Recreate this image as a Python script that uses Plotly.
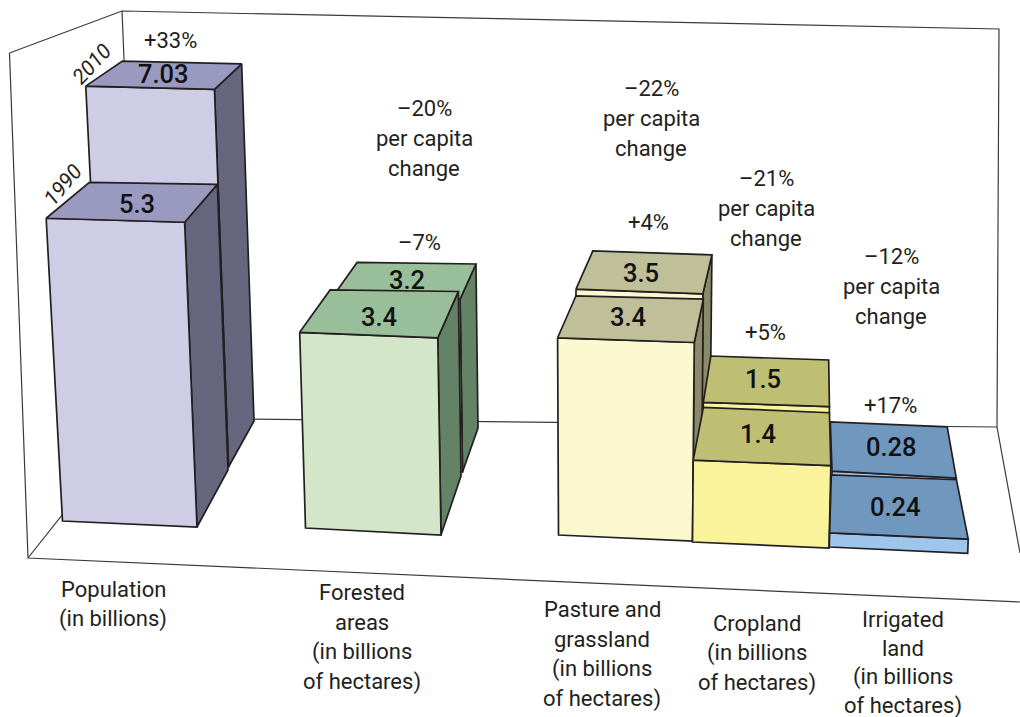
import plotly.graph_objects as go

# ---- data ----
CATEGORIES = ["Population", "Forested areas", "Pasture and grassland", "Cropland", "Irrigated land"]
VALUES_1990 = [5.3, 3.4, 3.4, 1.4, 0.24]
VALUES_2010 = [7.03, 3.2, 3.5, 1.5, 0.28]
VALUE_TEXT_1990 = ["5.3", "3.4", "3.4", "1.4", "0.24"]
VALUE_TEXT_2010 = ["7.03", "3.2", "3.5", "1.5", "0.28"]
CHANGE_LABELS = ["+33%", "\u20137%", "+4%", "+5%", "+17%"]
PER_CAPITA_LABELS = [None, "\u201320%", "\u201322%", "\u201321%", "\u201312%"]
CATEGORY_LINES = [
    ["Population", "(in billions)"],
    ["Forested", "areas", "(in billions", "of hectares)"],
    ["Pasture and", "grassland", "(in billions", "of hectares)"],
    ["Cropland", "(in billions", "of hectares)"],
    ["Irrigated", "land", "(in billions", "of hectares)"],
]
YEARS = ["1990", "2010"]

# ---- layout geometry: floor footprints (front-left, front-right, back-right, back-left) ----
FOOT_1990 = [
    [(62.5, 521), (197, 527), (228, 470), (103.5, 467)],
    [(305.5, 528), (441, 535), (461, 476), (335, 474)],
    [(558.5, 535), (692.5, 541), (701.5, 485.7), (576.5, 481.5)],
    [(692.5, 542), (829, 548), (827.7, 490), (702.6, 484)],
    [(829.3, 547), (967.7, 553.3), (956, 493), (831, 488)],
]
FOOT_2010 = [
    [(104.3, 461), (228.5, 467), (254, 421), (138.7, 416)],
    [(340, 464), (462.5, 472), (478, 428), (361, 426)],
    [(576.5, 480), (701, 486), (710, 436), (593, 431)],
    [(702.5, 484.5), (827.6, 489.4), (827, 437.8), (710, 433.4)],
    [(831.7, 486.5), (955.7, 493.5), (946.7, 441.5), (830, 436.5)],
]
COLORS = [  # top, front, side
    ("#9a99bf", "#cfcde6", "#66667f"),
    ("#98bf9a", "#d3e7c8", "#648265"),
    ("#bfbf99", "#fbf7cf", "#8b8a6b"),
    ("#bfbf73", "#fbf39c", "#8b8a6b"),
    ("#7098bf", "#9ec6ec", "#4f6f8f"),
]
VALUE_POS_1990 = [(137, 204), (379, 317), (628, 317), (758, 434), (895, 507)]
VALUE_POS_2010 = [(163, 74), (407, 280), (641, 273), (763, 379), (891, 447)]
CHANGE_POS = [(170, 40), (419, 242), (648, 222), (765, 332), (890, 405)]
PER_CAPITA_POS = [None, (424, 108), (651, 88), (766, 178), (891, 256)]
CATEGORY_POS = [(113, 589), (362, 592), (602, 609), (757, 623), (903, 619)]
CATEGORY_STEP = [30, 30, 30, 30, 29]
INK = "#231f20"
FRAME = "#3a3a3a"
VANISH = (604.0, 10560.0)
LABEL_FONT = "Roboto"


def lift(point, value):
    """Raise a floor point by a value, in the chart's oblique perspective."""
    x, y = point
    dy = value * (50.8 + 0.0632 * (y - 421))
    return (x - dy * (VANISH[0] - x) / (VANISH[1] - y), y - dy)


fig = go.Figure()


def poly(points, fill):
    xs = [p[0] for p in points] + [points[0][0]]
    ys = [p[1] for p in points] + [points[0][1]]
    fig.add_trace(go.Scatter(x=xs, y=ys, mode="lines", fill="toself", fillcolor=fill,
                             line=dict(color=INK, width=1.7), hoverinfo="skip", showlegend=False))


def frame(points, width=1.2):
    fig.add_trace(go.Scatter(x=[p[0] for p in points], y=[p[1] for p in points], mode="lines",
                             line=dict(color=FRAME, width=width), hoverinfo="skip", showlegend=False))


frame([(9.5, 53), (122, 11), (999, 29), (997, 427), (1020, 553)])
frame([(9.5, 53), (28, 558), (1020, 602)])
frame([(28, 558), (139, 418)])
frame([(122, 11), (139, 418), (997, 427)])


def text(x, y, s, size=22, angle=0, color="#231f20", style="normal", weight="normal"):
    fig.add_annotation(x=x, y=y, xref="x", yref="y", text=s, showarrow=False, textangle=angle,
                       font=dict(family=LABEL_FONT, size=size, color=color, style=style, weight=weight),
                       xanchor="center", yanchor="middle")


def bar(foot, value, colors):
    top = [lift(p, value) for p in foot]
    fl, fr, br, bl = foot
    tfl, tfr, tbr, tbl = top
    if br[0] > fr[0]:
        poly([tfr, tbr, br, fr], colors[2])
    poly([tfl, tfr, fr, fl], colors[1])
    poly(top, colors[0])


for i in range(len(CATEGORIES)):
    bar(FOOT_2010[i], VALUES_2010[i], COLORS[i])
    bar(FOOT_1990[i], VALUES_1990[i], COLORS[i])
for i in range(len(CATEGORIES)):
    text(*VALUE_POS_2010[i], VALUE_TEXT_2010[i], size=25.5, color="#111111", weight=500)
    text(*VALUE_POS_1990[i], VALUE_TEXT_1990[i], size=25.5, color="#111111", weight=500)

text(63, 185, YEARS[0], size=21, angle=-50, style="italic")
text(92, 64, YEARS[1], size=21, angle=-47, style="italic")

for i in range(len(CATEGORIES)):
    text(*CHANGE_POS[i], CHANGE_LABELS[i])
    if PER_CAPITA_LABELS[i]:
        px, py = PER_CAPITA_POS[i]
        for j, s in enumerate([PER_CAPITA_LABELS[i], "per capita", "change"]):
            text(px, py + 30 * j, s)
    cx, cy = CATEGORY_POS[i]
    for j, s in enumerate(CATEGORY_LINES[i]):
        text(cx, cy + CATEGORY_STEP[i] * j, s)

fig.update_layout(
    width=1020, height=717, margin=dict(l=0, r=0, t=0, b=0),
    paper_bgcolor="white", plot_bgcolor="white",
    xaxis=dict(range=[0, 1020], visible=False, fixedrange=True),
    yaxis=dict(range=[717, 0], visible=False, fixedrange=True),
)
fig.write_html("out.html", config={"displayModeBar": False},
               post_script="document.body.style.margin='0';document.documentElement.style.overflow='hidden';")
